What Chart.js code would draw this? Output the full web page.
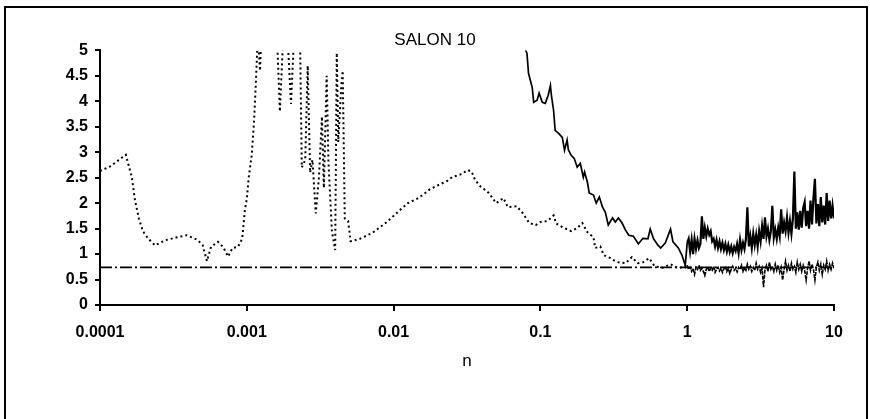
<!DOCTYPE html>
<html>
<head>
<meta charset="utf-8">
<script src="https://cdn.jsdelivr.net/npm/chart.js@4/dist/chart.umd.min.js"></script>
<style>
  html, body { margin: 0; padding: 0; background: #fff; }
  canvas { display: block; }
</style>
</head>
<body>
<canvas id="chart" width="870" height="419"></canvas>
<script>
// Labels
const chartTitle = 'SALON 10';
const axisTitleX = 'n';
const xTickValues = [0.0001, 0.001, 0.01, 0.1, 1, 10];
const xTickLabels = ['0.0001', '0.001', '0.01', '0.1', '1', '10'];
const yTickLabels = ['0', '0.5', '1', '1.5', '2', '2.5', '3', '3.5', '4', '4.5', '5'];

// Reference level
const levelN = [0.0001, 10];
const levelValue = [0.74, 0.74];

// Dotted series, n below 1
const dottedN = [
  1.0e-4, 1.19e-4, 1.33e-4, 1.5e-4, 1.65e-4, 1.73e-4, 1.84e-4, 1.96e-4, 2.12e-4, 2.37e-4,
  2.77e-4, 3.35e-4, 3.9e-4, 4.6e-4, 5.0e-4, 5.35e-4, 5.7e-4, 6.35e-4, 6.9e-4, 7.45e-4,
  8.0e-4, 8.7e-4, 9.3e-4, 9.7e-4, 1.0e-3, 1.03e-3, 1.08e-3, 1.12e-3, 1.15e-3, 1.19e-3,
  1.23e-3, 1.26e-3, 1.33e-3, 1.46e-3, 1.53e-3, 1.6e-3, 1.68e-3, 1.76e-3, 1.9e-3, 2.0e-3,
  2.1e-3, 2.3e-3, 2.37e-3, 2.5e-3, 2.6e-3, 2.7e-3, 2.8e-3, 2.95e-3, 3.1e-3, 3.25e-3,
  3.35e-3, 3.5e-3, 3.6e-3, 3.8e-3, 4.0e-3, 4.1e-3, 4.2e-3, 4.4e-3, 4.5e-3, 4.65e-3,
  4.9e-3, 5.1e-3, 5.9e-3, 7.2e-3, 9.0e-3, 1.1e-2, 1.25e-2, 1.43e-2, 1.58e-2, 1.76e-2,
  2.0e-2, 2.3e-2, 2.5e-2, 2.9e-2, 3.2e-2, 3.4e-2, 3.6e-2, 3.9e-2, 4.45e-2, 5.0e-2,
  5.6e-2, 6.0e-2, 6.9e-2, 7.6e-2, 8.4e-2, 9.3e-2, 0.1, 0.112, 0.123, 0.128,
  0.141, 0.162, 0.178, 0.193, 0.209, 0.23, 0.236, 0.256, 0.27, 0.3,
  0.315, 0.34, 0.38, 0.42, 0.46, 0.5, 0.55, 0.6, 0.68, 0.77,
  0.87, 0.94
];
const dottedValue = [
  2.63, 2.73, 2.84, 2.95, 2.5, 2.06, 1.7, 1.45, 1.31, 1.17,
  1.27, 1.33, 1.37, 1.28, 1.18, 0.86, 1.14, 1.24, 1.14, 0.95,
  1.12, 1.14, 1.3, 1.86, 2.08, 2.5, 2.94, 3.6, 4.3, 5.3,
  4.6, 5.4, 5.3, 5.3, 5.1, 5.4, 3.8, 5.1, 5.2, 3.95,
  5.3, 5.4, 2.7, 2.85, 4.7, 2.6, 2.85, 1.8, 2.5, 3.7,
  2.3, 4.5, 2.8, 1.45, 1.08, 4.95, 3.2, 4.3, 4.6, 1.7,
  1.65, 1.25, 1.3, 1.42, 1.63, 1.86, 2.0, 2.08, 2.16, 2.27,
  2.35, 2.43, 2.51, 2.57, 2.65, 2.62, 2.45, 2.33, 2.2, 2.0,
  2.1, 1.92, 1.94, 1.8, 1.61, 1.57, 1.63, 1.65, 1.76, 1.6,
  1.53, 1.45, 1.51, 1.61, 1.43, 1.33, 1.12, 1.15, 0.98, 0.92,
  0.88, 0.84, 0.82, 0.94, 0.82, 0.84, 0.92, 0.76, 0.73, 0.8,
  0.72, 0.75
];

// Solid series, n below 1
const solidN = [
  0.076, 0.081, 0.083, 0.088, 0.09, 0.095, 0.098, 0.103, 0.108, 0.113,
  0.117, 0.119, 0.123, 0.126, 0.133, 0.141, 0.146, 0.152, 0.155, 0.162,
  0.17, 0.178, 0.187, 0.196, 0.2, 0.209, 0.215, 0.23, 0.24, 0.252,
  0.265, 0.277, 0.29, 0.31, 0.324, 0.34, 0.36, 0.38, 0.4, 0.43,
  0.465, 0.5, 0.54, 0.56, 0.59, 0.63, 0.66, 0.71, 0.77, 0.8,
  0.87, 0.92, 0.97
];
const solidValue = [
  5.14, 4.94, 4.55, 4.27, 3.98, 4.02, 4.16, 3.98, 3.96, 4.12,
  4.31, 4.1, 3.82, 3.43, 3.37, 3.29, 3.04, 3.24, 3.05, 2.94,
  2.88, 2.71, 2.78, 2.51, 2.61, 2.41, 2.2, 2.16, 2.0, 2.12,
  1.92, 1.82, 1.57, 1.71, 1.63, 1.71, 1.61, 1.47, 1.37, 1.35,
  1.2, 1.31, 1.3, 1.49, 1.3, 1.18, 1.12, 1.22, 1.49, 1.24,
  1.12, 0.98, 0.78
];

// Sample positions shared by both series from n = 1 to n = 10
const decadeN = [
  1, 1.023, 1.047, 1.072, 1.096, 1.122, 1.148, 1.175, 1.202, 1.23,
  1.259, 1.288, 1.318, 1.349, 1.38, 1.413, 1.445, 1.479, 1.514, 1.549,
  1.585, 1.622, 1.66, 1.698, 1.738, 1.778, 1.82, 1.862, 1.905, 1.95,
  1.995, 2.042, 2.089, 2.138, 2.188, 2.239, 2.291, 2.344, 2.399, 2.455,
  2.512, 2.57, 2.63, 2.692, 2.754, 2.818, 2.884, 2.951, 3.02, 3.09,
  3.162, 3.236, 3.311, 3.388, 3.467, 3.548, 3.631, 3.715, 3.802, 3.89,
  3.981, 4.074, 4.169, 4.266, 4.365, 4.467, 4.571, 4.677, 4.786, 4.898,
  5.012, 5.129, 5.248, 5.37, 5.495, 5.623, 5.754, 5.888, 6.026, 6.166,
  6.31, 6.457, 6.607, 6.761, 6.918, 7.079, 7.244, 7.413, 7.586, 7.762,
  7.943, 8.128, 8.318, 8.511, 8.71, 8.913, 9.12, 9.333, 9.55, 9.772,
  10
];
const dottedDecadeValue = [
  0.78, 0.7, 0.74, 0.66, 0.72, 0.6, 0.74, 0.7, 0.78, 0.68,
  0.72, 0.66, 0.58, 0.7, 0.75, 0.66, 0.72, 0.68, 0.76, 0.64,
  0.7, 0.74, 0.67, 0.72, 0.64, 0.71, 0.76, 0.66, 0.72, 0.62,
  0.7, 0.76, 0.68, 0.72, 0.65, 0.74, 0.7, 0.78, 0.66, 0.73,
  0.68, 0.8, 0.7, 0.76, 0.66, 0.74, 0.68, 0.82, 0.7, 0.76,
  0.64, 0.72, 0.35, 0.7, 0.78, 0.66, 0.84, 0.7, 0.76, 0.66,
  0.8, 0.68, 0.78, 0.64, 0.74, 0.49, 0.7, 0.86, 0.68, 0.78,
  0.66, 0.82, 0.7, 0.76, 0.64, 0.84, 0.7, 0.8, 0.66, 0.78,
  0.68, 0.49, 0.72, 0.86, 0.68, 0.8, 0.7, 0.49, 0.74, 0.84,
  0.68, 0.8, 0.6, 0.78, 0.7, 0.86, 0.68, 0.8, 0.7, 0.82,
  0.72
];
const solidDecadeValue = [
  1.22, 1.3, 1.05, 1.28, 1.0, 1.3, 1.1, 1.27, 1.12, 1.2,
  1.74, 1.3, 1.52, 1.35, 1.5, 1.38, 1.45, 1.25, 1.3, 1.15,
  1.28, 1.12, 1.25, 1.1, 1.22, 1.08, 1.2, 1.05, 1.18, 1.04,
  1.15, 1.02, 1.14, 1.06, 1.2, 1.02, 1.28, 1.08, 1.22, 1.1,
  1.3, 1.92, 1.15, 1.35, 1.12, 1.4, 1.18, 1.38, 1.15, 1.45,
  1.25, 1.55, 1.3, 1.72, 1.35, 1.5, 1.28, 1.45, 1.95, 1.32,
  1.48, 1.3, 1.52, 1.35, 1.88, 1.4, 1.62, 1.45, 1.72, 1.42,
  1.65, 1.4, 1.7, 2.62, 1.5, 1.82, 1.48, 1.85, 1.52, 1.9,
  2.02, 1.55, 1.85, 1.5, 2.05, 1.58, 2.1, 2.48, 1.6, 1.98,
  1.55, 2.12, 1.62, 1.95, 1.58, 2.2, 1.65, 2.05, 1.7, 1.95,
  1.7
];

function toPoints(xs, ys) {
  return xs.map((x, i) => ({ x: x, y: ys[i] }));
}

const fontFamily = '"Liberation Sans", Arial, sans-serif';
const dotPattern = [2, 3];

// Outer frame around the chart
const framePlugin = {
  id: 'frame',
  beforeDraw(chart) {
    const ctx = chart.ctx;
    ctx.save();
    ctx.fillStyle = '#fff';
    ctx.fillRect(0, 0, chart.width, chart.height);
    ctx.strokeStyle = '#000';
    ctx.lineWidth = 2;
    ctx.strokeRect(5, 7, 862, 440);
    ctx.restore();
  }
};

new Chart(document.getElementById('chart'), {
  type: 'line',
  data: {
    datasets: [
      {
        data: toPoints(solidN.concat(decadeN), solidValue.concat(solidDecadeValue)),
        borderColor: '#000',
        borderWidth: 1.7,
        pointRadius: 0,
        tension: 0,
        segment: {
          borderWidth: ctx => (ctx.p0.parsed.x >= 1 ? 2.2 : 1.7)
        },
        order: 1
      },
      {
        data: toPoints(dottedN.concat(decadeN), dottedValue.concat(dottedDecadeValue)),
        borderColor: '#000',
        borderWidth: 2,
        borderDash: dotPattern,
        pointRadius: 0,
        tension: 0,
        segment: {
          // the fast-varying tail merges into a dense dark band
          borderDash: ctx => (ctx.p0.parsed.x >= 1 ? [4, 1] : dotPattern),
          borderWidth: ctx => (ctx.p0.parsed.x >= 1 ? 1.6 : 2)
        },
        order: 2
      },
      {
        data: toPoints(levelN, levelValue),
        borderColor: '#000',
        borderWidth: 1.7,
        borderDash: [12, 3, 2, 3],
        pointRadius: 0,
        tension: 0,
        order: 3
      }
    ]
  },
  options: {
    responsive: false,
    animation: false,
    devicePixelRatio: 1,
    layout: { padding: { left: 0, right: 0, top: 0, bottom: 0 } },
    plugins: {
      legend: { display: false },
      tooltip: { enabled: false },
      title: {
        display: true,
        text: chartTitle,
        color: '#000',
        font: { family: fontFamily, size: 17, weight: 'normal' },
        padding: { top: 30, bottom: 0 }
      }
    },
    scales: {
      x: {
        type: 'logarithmic',
        min: 0.0001,
        max: 10,
        afterBuildTicks(scale) {
          scale.ticks = xTickValues.map(v => ({ value: v, major: true }));
        },
        afterFit(scale) { scale.height = 114; },
        ticks: {
          autoSkip: false,
          maxRotation: 0,
          color: '#000',
          padding: 12,
          font: { family: fontFamily, size: 16, weight: 'bold' },
          callback: (value, index) => xTickLabels[index]
        },
        grid: { drawOnChartArea: false, drawTicks: true, tickLength: 6, color: '#000', lineWidth: 2 },
        border: { display: true, color: '#000', width: 2 },
        title: {
          display: true,
          text: axisTitleX,
          color: '#000',
          font: { family: fontFamily, size: 17, weight: 'normal' },
          padding: { top: 0, bottom: 47 }
        }
      },
      y: {
        type: 'linear',
        min: 0,
        max: 5,
        afterFit(scale) { scale.width = 100; },
        ticks: {
          stepSize: 0.5,
          color: '#000',
          padding: 7,
          font: { family: fontFamily, size: 16, weight: 'bold' },
          callback: (value, index) => yTickLabels[index]
        },
        grid: { drawOnChartArea: false, drawTicks: true, tickLength: 5, color: '#000', lineWidth: 2 },
        border: { display: true, color: '#000', width: 2 }
      },
      rightMargin: {
        type: 'linear',
        position: 'right',
        display: true,
        afterFit(scale) { scale.width = 36; },
        ticks: { display: false },
        grid: { display: false },
        border: { display: false }
      }
    }
  },
  plugins: [framePlugin]
});
</script>
</body>
</html>
